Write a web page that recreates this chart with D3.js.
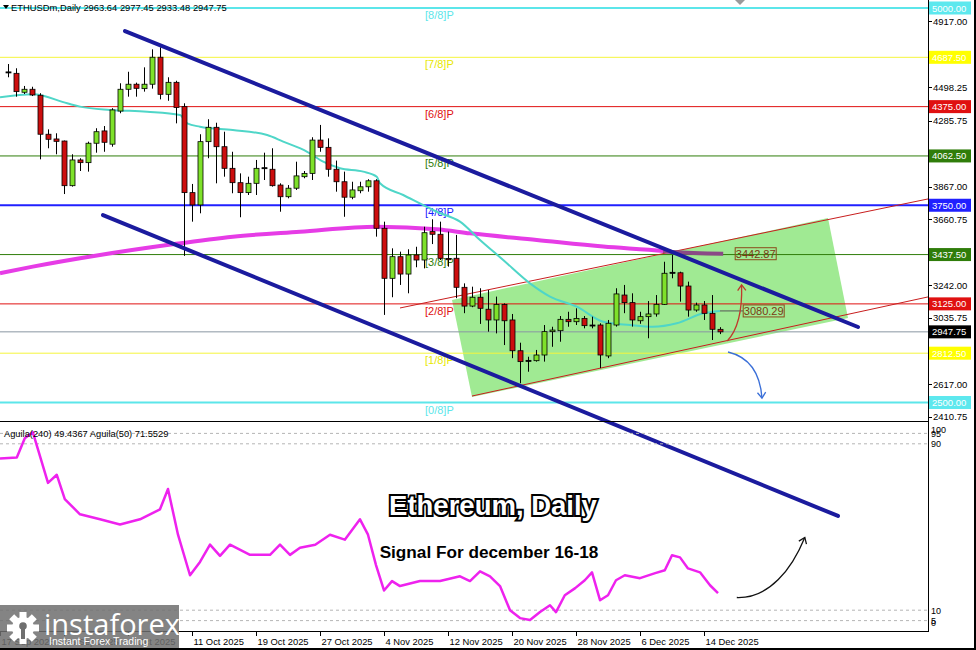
<!DOCTYPE html>
<html><head><meta charset="utf-8">
<script src="https://cdn.jsdelivr.net/npm/d3@7"></script>
<style>
body{margin:0;background:#fff;}
svg{display:block;font-family:"Liberation Sans",Arial,sans-serif;}
</style></head><body>
<svg id="c" width="976" height="650"></svg>
<script>
// ---------- DATA ----------
const symbol = "ETHUSDm,Daily";
const lastOHLC = ["2963.64","2977.45","2933.48","2947.75"];
// candle index 0 = 18 Sep 2025 (daily)
const opens  = [4590,4586,4466,4485,4447,4200,4170,4157,3874,4037,4020,4143,4221,4137,4347,4485,4517,4489,4517,4688,4453,4529,4375,3830,3752,4153,4244,4121,3984,3893,3830,3889,3984,3978,3878,3804,3858,3931,3952,4163,4117,3978,3899,3801,3842,3867,3905,3604,3287,3424,3314,3435,3403,3583,3566,3412,3414,3230,3111,3167,3091,3023,3121,3023,2828,2763,2765,2801,2949,2955,3027,3012,3033,2991,2991,2795,2991,3181,3133,3018,3044,3061,3122,3325,3322,3238,3086,3118,3065,2963.64];
const highs  = [4645,4618,4506,4501,4460,4231,4206,4160,4073,4048,4153,4238,4252,4365,4523,4596,4527,4624,4738,4751,4561,4539,4396,3885,4200,4295,4273,4216,4089,3952,3931,4037,4083,4111,3889,3878,4026,3967,4181,4259,4174,4033,3963,3899,3899,3915,3915,3646,3477,3456,3471,3487,3614,3661,3646,3583,3562,3255,3234,3224,3213,3171,3128,3061,2879,2790,2833,2991,2980,3048,3075,3097,3048,3044,3002,3023,3224,3245,3192,3075,3143,3181,3392,3435,3329,3266,3133,3143,3181,2977.45];
const lows   = [4561,4438,4455,4442,4041,4111,4073,3821,3868,3967,3963,4083,4089,4121,4333,4438,4438,4470,4489,4421,4412,4269,3429,3646,3699,4048,3889,3931,3826,3674,3815,3815,3910,3868,3709,3794,3847,3921,3910,4089,3931,3836,3677,3788,3826,3836,3551,3055,3167,3245,3192,3357,3350,3504,3403,3361,3161,3066,3104,2998,2949,2938,2864,2781,2622,2695,2759,2759,2853,2885,2980,2991,2970,2970,2718,2781,2981,3066,2981,2999,2907,3044,3118,3287,3139,3044,3075,3023,2896,2933.48];
const closes = [4595,4470,4485,4449,4200,4168,4155,3874,4037,4020,4143,4216,4149,4354,4485,4517,4491,4517,4688,4453,4529,4369,3830,3752,4153,4244,4121,3984,3893,3830,3889,3984,3988,3874,3804,3858,3936,3952,4163,4117,3978,3899,3801,3847,3867,3905,3604,3287,3424,3314,3435,3403,3576,3566,3414,3405,3230,3111,3167,3097,3023,3121,3018,2828,2759,2767,2801,2949,2959,3027,3012,3033,2987,2987,2801,3002,3188,3133,3023,3044,3061,3122,3319,3322,3238,3086,3118,3065,2964,2947.75];

// date axis labels: [candle index, text]
const dateIdx    = [-1,7,15,23,31,39,47,55,63,71,79,87];
const dateLabels = ["17 Sep 2025","25 Sep 2025","3 Oct 2025","11 Oct 2025","19 Oct 2025","27 Oct 2025","4 Nov 2025","12 Nov 2025","20 Nov 2025","28 Nov 2025","6 Dec 2025","14 Dec 2025"];

// price axis tick labels
const priceTicks = [4917.00,4498.25,4285.75,3867.00,3660.75,3242.00,3035.75,2617.00,2410.75];

// Murrey math levels
const mmLevels = [5000,4687.5,4375,4062.5,3750,3437.5,3125,2812.5,2500];
const mmNames  = ["[8/8]P","[7/8]P","[6/8]P","[5/8]P","[4/8]P","[3/8]P","[2/8]P","[1/8]P","[0/8]P"];
const mmColors = ["#5ce6ea","#f5f53c","#e01010","#2f7d0a","#2020ff","#2f7d0a","#e01010","#f5f53c","#5ce6ea"];
const mmWidths = [2,1,1,1,2,1,1,1,2];
const currentPrice = 2947.75;

// moving averages: [candle index, price]
const maFastIdx = [-1,3.1,7.4,9,12.75,17.4,21.5,22.4,24,28.1,32.4,34.4,37.4,39.4,41.5,44.4,46.1,46.5,49.4,53.6,56.5,59,61.9,65.25,67.75,71.1,74.4,77.75,80.6,83.6,86.9,89];
const maFastVal = [4434,4453,4396,4375,4354,4343,4322,4269,4248,4227,4195,4153,4089,4026,3984,3963,3931,3889,3815,3709,3646,3530,3403,3255,3171,3107,3012,2991,2980,3002,3065,3080.29];
const maSlowIdx = [-1,3.1,11.5,19.9,28.1,36.5,46.1,53.6,57.75,66.1,74.4,81.9,83,89.4];
const maSlowVal = [3319,3361,3435,3498,3551,3582,3614,3598,3572,3530,3488,3460,3454,3442.87];

// indicator Aguila(240): [candle index, value]
const agIdx = [-1,1.1,2.1,3.1,5,6.1,7.1,9,11.5,14,16.5,19,20,21.25,22.75,24,25.25,26.5,27.75,30.25,32.75,34,35.25,36.5,38.4,40.25,42.1,44,45,46,47,48,49,51.5,54,56.5,57.75,59,60.25,61.5,62.75,64,65.25,66.5,67.75,68.5,69.6,70.9,72.1,73,74,75,76,77.1,79,80.9,82.1,83,84,85,86.5,87.75,88.75];
const agVal = [82.9,83.4,92.7,95.6,71.2,75.1,63.4,56.1,53.7,51.2,53.7,58.5,68.3,46.3,26.8,33.2,41.5,36.1,41.5,36.6,36.6,41.5,36.6,40,41.5,46.3,43.9,53.7,46.3,31.7,19.5,24,21.6,24,24,26.3,24,28.7,26.3,21.6,10,6.2,5.3,9.1,12.4,9.1,17.2,20.6,24.4,28.2,14.8,17.2,24.4,26.8,25.4,27.8,29.2,36.4,35.4,30.1,28.2,22,18.2];
const agLevels = [95,90,10,5];
const agAxis = [100,95,90,10,5,0];

// channel / annotation geometry in data units [index, price]
const trendUpper = [[14.625,4854],[106.25,2978.5]];
const trendLower = [[11.875,3688],[103.75,1781]];
const redUpper   = [[49,3099],[115,3790]];
const redLower   = [[58,2541],[115,3169]];
const greenBox   = [[55.5,3150],[58,2535],[105,3035],[102.5,3669]];

// ---------- DRAW ----------
const svg = d3.select("#c");
const W = 976, H = 650, R = 928;
const x = d3.scaleLinear().domain([-1,115]).range([0,R]);
const y = d3.scaleLinear().domain([2500,5000]).range([402.5,8]);
const yi = d3.scaleLinear().domain([0,100]).range([631,423]);

svg.append("rect").attr("width",W).attr("height",H).attr("fill","#fff");

// green channel box
svg.append("path").attr("d", d3.line().x(d=>x(d[0])).y(d=>y(d[1]))(greenBox)+"Z")
  .attr("fill","#8fe680").attr("opacity",0.85);

// Murrey lines
mmLevels.forEach((v,i)=>{
  svg.append("line").attr("x1",0).attr("x2",R).attr("y1",y(v)).attr("y2",y(v))
    .attr("stroke",mmColors[i]).attr("stroke-width",mmWidths[i]);
  svg.append("text").attr("x",425).attr("y",y(v)+11).attr("font-size",11)
    .attr("fill",mmColors[i]==="#f5f53c"?"#e8e800":mmColors[i]).text(mmNames[i]);
});
svg.append("line").attr("x1",0).attr("x2",R).attr("y1",y(currentPrice)).attr("y2",y(currentPrice))
  .attr("stroke","#8a96a3").attr("stroke-width",1);

// red channel lines
[redUpper, redLower].forEach(l=>{
  svg.append("line").attr("x1",x(l[0][0])).attr("y1",y(l[0][1])).attr("x2",x(l[1][0])).attr("y2",y(l[1][1]))
    .attr("stroke","#c81e1e").attr("stroke-width",1);
});

// moving averages
const lineGen = d3.line().x(d=>x(d[0])).y(d=>y(d[1])).curve(d3.curveMonotoneX);
const fast = maFastIdx.map((d,i)=>[d,maFastVal[i]]);
const slow = maSlowIdx.map((d,i)=>[d,maSlowVal[i]]);
svg.append("path").attr("d",lineGen(slow.slice(0,13))).attr("fill","none").attr("stroke","#e63ce6").attr("stroke-width",4);
svg.append("path").attr("d",lineGen(slow.slice(11))).attr("fill","none").attr("stroke","#8a4a86").attr("stroke-width",4);
svg.append("path").attr("d",lineGen(fast)).attr("fill","none").attr("stroke","#4fd6c8").attr("stroke-width",2);

// candles
const bw = 5;
const cg = svg.append("g");
opens.forEach((o,i)=>{
  const c = closes[i], h = highs[i], l = lows[i];
  const cx = Math.round(x(i))+0.5;
  cg.append("line").attr("x1",cx).attr("x2",cx).attr("y1",y(h)).attr("y2",y(l)).attr("stroke","#000").attr("stroke-width",1);
  const top = y(Math.max(o,c)), bot = y(Math.min(o,c));
  const doji = Math.abs(o-c) < 6;
  cg.append("rect").attr("x",cx-bw/2).attr("y",top).attr("width",bw).attr("height",Math.max(1,bot-top))
    .attr("fill", doji ? "#000" : (c>=o ? "#7ee12a" : "#cc0e0e"))
    .attr("stroke","#000").attr("stroke-width",0.8);
});

// MA value labels
function priceBox(val, ix){
  const g = svg.append("g");
  const ty = y(val);
  g.append("rect").attr("x",x(ix)).attr("y",ty-6).attr("width",41).attr("height",12)
    .attr("fill","none").attr("stroke","#8b4a1a").attr("stroke-width",1);
  g.append("text").attr("x",x(ix)+20.5).attr("y",ty+4).attr("text-anchor","middle")
    .attr("font-size",11).attr("fill","#7a3a14").text(val.toFixed(2));
}
svg.append("line").attr("x1",x(89)).attr("x2",x(91.9)).attr("y1",y(3080.29)).attr("y2",y(3080.29)).attr("stroke","#555").attr("stroke-width",1);
priceBox(3442.87, 90.9);
priceBox(3080.29, 91.9);

// thick trend lines
[trendUpper, trendLower].forEach(l=>{
  svg.append("line").attr("x1",x(l[0][0])).attr("y1",y(l[0][1])).attr("x2",x(l[1][0])).attr("y2",y(l[1][1]))
    .attr("stroke","#1b1b9e").attr("stroke-width",4).attr("stroke-linecap","round");
});

// curved arrows (cubic bezier, data units)
function arrow(pts,color,scaleY){
  const P = pts.map(p=>[x(p[0]),scaleY(p[1])]);
  svg.append("path").attr("d",`M${P[0]} C${P[1]} ${P[2]} ${P[3]}`)
    .attr("fill","none").attr("stroke",color).attr("stroke-width",1.3);
  const ang = Math.atan2(P[3][1]-P[2][1], P[3][0]-P[2][0]);
  const a1 = ang+Math.PI*0.8, a2 = ang-Math.PI*0.8, L=7;
  svg.append("path").attr("d",`M${P[3][0]+L*Math.cos(a1)},${P[3][1]+L*Math.sin(a1)} L${P[3][0]},${P[3][1]} L${P[3][0]+L*Math.cos(a2)},${P[3][1]+L*Math.sin(a2)}`)
    .attr("fill","none").attr("stroke",color).attr("stroke-width",1.3);
}
arrow([[89.9,2890],[91.2,2960],[91.8,3080],[91.7,3245]],"#c0392b",y);
arrow([[90,2820],[92.5,2790],[94,2700],[94.25,2528]],"#3a6fd8",y);
arrow([[91.1,16.1],[95.2,15.6],[98,30],[99.6,45]],"#111",yi);

// ---------- indicator panel ----------
agLevels.forEach(v=>{
  svg.append("line").attr("x1",0).attr("x2",R).attr("y1",yi(v)).attr("y2",yi(v))
    .attr("stroke","#b5b5b5").attr("stroke-dasharray","3,3").attr("stroke-width",1);
});
const ag = agIdx.map((d,i)=>[d,agVal[i]]);
svg.append("path").attr("d",d3.line().x(d=>x(d[0])).y(d=>yi(d[1]))(ag))
  .attr("fill","none").attr("stroke","#ee22ee").attr("stroke-width",2.5).attr("stroke-linejoin","round");
svg.append("text").attr("x",4).attr("y",437).attr("font-size",9.3).attr("fill","#000")
  .text("Aguila(240) 49.4367  Aguila(50) 71.5529");
agAxis.forEach(v=>{
  const cy = Math.min(622, Math.max(429, yi(v)));
  svg.append("text").attr("x",931).attr("y",cy+3.5).attr("font-size",9).attr("fill","#000").text(v);
});

// ---------- frames & axes ----------
svg.append("line").attr("x1",R+0.5).attr("x2",R+0.5).attr("y1",0).attr("y2",631).attr("stroke","#000");
svg.append("line").attr("x1",0).attr("x2",R).attr("y1",421.5).attr("y2",421.5).attr("stroke","#000");
svg.append("line").attr("x1",0).attr("x2",R+1).attr("y1",631.5).attr("y2",631.5).attr("stroke","#000");

priceTicks.forEach(v=>{
  svg.append("line").attr("x1",R).attr("x2",R+4).attr("y1",Math.round(y(v))+0.5).attr("y2",Math.round(y(v))+0.5).attr("stroke","#000");
  svg.append("text").attr("x",R+5).attr("y",y(v)+3.5).attr("font-size",9.5).attr("fill","#000").text(v.toFixed(2));
});
// coloured level labels on axis
const boxLabels = mmLevels.map((v,i)=>[v,mmColors[i]==="#f5f53c"?"#ffff00":(mmColors[i]==="#5ce6ea"?"#5de8ee":mmColors[i])]);
boxLabels.push([currentPrice,"#000"]);
boxLabels.forEach(([v,col])=>{
  svg.append("rect").attr("x",R+1).attr("y",y(v)-6.5).attr("width",42).attr("height",13).attr("fill",col);
  svg.append("text").attr("x",R+4).attr("y",y(v)+3.5).attr("font-size",9.5).attr("fill","#fff").text(v.toFixed(2));
});

// date axis
dateIdx.forEach((d,i)=>{
  const px = Math.round(x(d))+0.5;
  svg.append("line").attr("x1",px).attr("x2",px).attr("y1",631).attr("y2",636).attr("stroke","#000");
  svg.append("text").attr("x",px+1).attr("y",645).attr("font-size",9.4).attr("fill","#000").text(dateLabels[i]);
});

// header
svg.append("path").attr("d","M3,5 L9,5 L6,9 Z").attr("fill","#000");
svg.append("text").attr("x",11).attr("y",11).attr("font-size",9.4).attr("fill","#000")
  .text(symbol+"  "+lastOHLC.join(" "));
// chart shift marker
svg.append("path").attr("d","M735,0 L745,0 L740,5 Z").attr("fill","#9a9a9a");

// title texts
svg.append("text").attr("x",493).attr("y",515).attr("text-anchor","middle").attr("font-size",27.5)
  .attr("font-weight","bold").attr("fill","#fff").attr("stroke","#000").attr("stroke-width",4)
  .attr("paint-order","stroke").text("Ethereum, Daily");
svg.append("text").attr("x",489).attr("y",558).attr("text-anchor","middle").attr("font-size",17.2)
  .attr("font-weight","bold").attr("fill","#000").text("Signal For december 16-18");

// logo
const lg = svg.append("g");
lg.append("rect").attr("x",0).attr("y",605).attr("width",179).attr("height",45).attr("fill","#6f6f6f").attr("opacity",0.85);
const gcx=23, gcy=628;
for(let k=0;k<8;k++){
  lg.append("rect").attr("x",gcx-3.5).attr("y",gcy-16).attr("width",7).attr("height",8).attr("fill","#fff")
    .attr("transform",`rotate(${k*45},${gcx},${gcy})`);
}
lg.append("circle").attr("cx",gcx).attr("cy",gcy).attr("r",11).attr("fill","#fff");
lg.append("circle").attr("cx",gcx).attr("cy",gcy-2).attr("r",3.8).attr("fill","#6f6f6f");
lg.append("rect").attr("x",gcx-2).attr("y",gcy).attr("width",4).attr("height",11).attr("fill","#6f6f6f");
lg.append("text").attr("x",44).attr("y",635).attr("font-size",29).attr("fill","#fff").attr("font-family","Open Sans, Arial").text("instaforex");
lg.append("text").attr("x",49).attr("y",645).attr("font-size",10.5).attr("fill","#fff").text("Instant Forex Trading");

// outer frame
svg.append("line").attr("x1",975).attr("x2",975).attr("y1",0).attr("y2",650).attr("stroke","#000").attr("stroke-width",2);
svg.append("line").attr("x1",0).attr("x2",976).attr("y1",649).attr("y2",649).attr("stroke","#000").attr("stroke-width",2);
</script>
</body></html>
